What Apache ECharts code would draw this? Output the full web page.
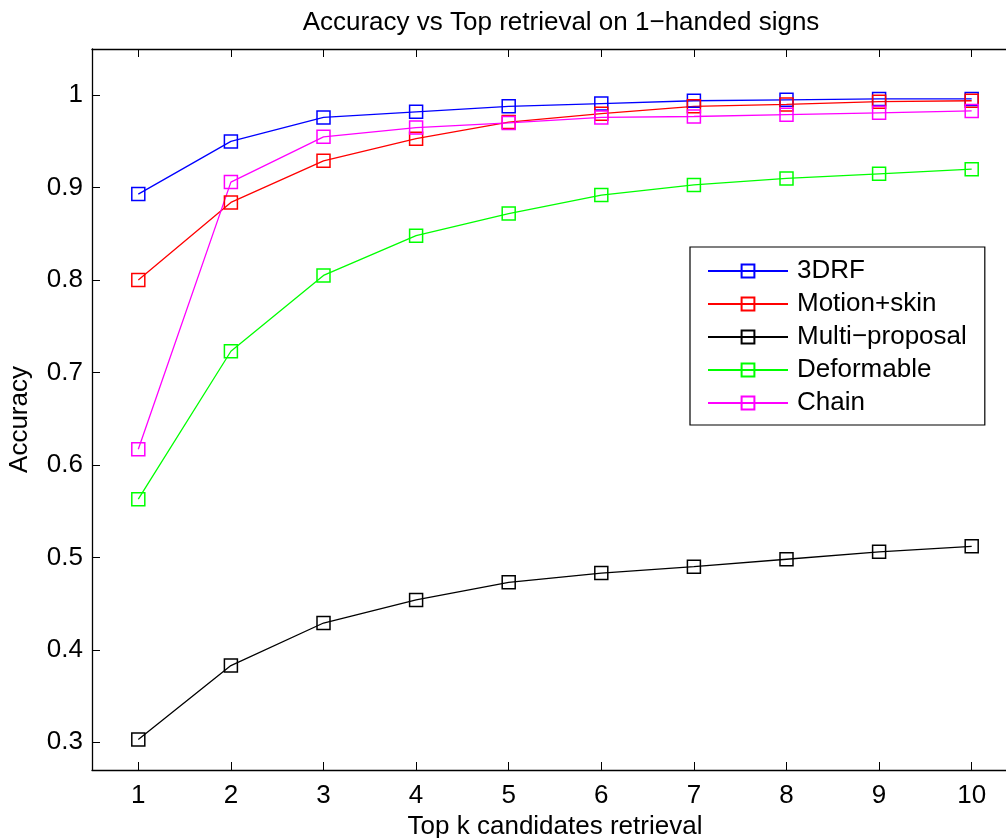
<!DOCTYPE html>
<html>
<head>
<meta charset="utf-8">
<script src="https://cdn.jsdelivr.net/npm/echarts@6/dist/echarts.min.js"></script>
<style>
  html, body { margin: 0; padding: 0; background: #fff; }
  #chart { width: 1006px; height: 838px; }
</style>
</head>
<body>
<div id="chart"></div>
<script>
const topK = [1, 2, 3, 4, 5, 6, 7, 8, 9, 10];
const yTicks = [0.3, 0.4, 0.5, 0.6, 0.7, 0.8, 0.9, 1];

const drf3 = [0.893, 0.950, 0.976, 0.982, 0.988, 0.991, 0.994, 0.995, 0.996, 0.996];
const motionSkin = [0.800, 0.884, 0.929, 0.953, 0.971, 0.980, 0.988, 0.990, 0.993, 0.994];
const multiProposal = [0.303, 0.383, 0.429, 0.454, 0.473, 0.483, 0.490, 0.498, 0.506, 0.512];
const deformable = [0.563, 0.723, 0.805, 0.848, 0.872, 0.892, 0.903, 0.910, 0.915, 0.920];
const chain = [0.617, 0.906, 0.955, 0.965, 0.970, 0.976, 0.977, 0.979, 0.981, 0.983];

const font = "Liberation Sans, Arial, Helvetica, sans-serif";

function line(name, values, color) {
  return {
    name,
    type: "line",
    data: topK.map((k, i) => [k, values[i]]),
    symbol: "rect",
    symbolSize: 13,
    showSymbol: true,
    lineStyle: { color, width: 1.3 },
    itemStyle: { color: "rgba(0,0,0,0)", borderColor: color, borderWidth: 1.5 },
    emphasis: { disabled: true },
    animation: false,
  };
}

const chart = echarts.init(document.getElementById("chart"));

chart.setOption({
  backgroundColor: "#fff",
  title: {
    text: "Accuracy vs Top retrieval on 1\u2212handed signs",
    left: 556,
    textAlign: "center",
    top: 5,
    textStyle: { fontFamily: font, fontWeight: "normal", fontSize: 26, color: "#000" },
  },
  legend: {
    orient: "vertical",
    left: 690,
    top: 247,
    padding: [11, 18, 9, 17],
    itemGap: 7,
    itemWidth: 80,
    itemHeight: 16,
    borderColor: "#000",
    borderWidth: 1.2,
    backgroundColor: "#fff",
    textStyle: { fontFamily: font, fontSize: 26, color: "#000", padding: [0, 0, 0, 4] },
    data: ["3DRF", "Motion+skin", "Multi\u2212proposal", "Deformable", "Chain"],
  },
  grid: { left: 92, top: 49, width: 926, bottom: 68, outerBoundsMode: "none", containLabel: false },
  xAxis: [
    {
      type: "value",
      min: 0.5,
      max: 10.5,
      name: "Top k candidates retrieval",
      nameLocation: "middle",
      nameGap: 44,
      nameTextStyle: { fontFamily: font, fontSize: 26, color: "#000" },
      axisLine: { show: true, onZero: false, lineStyle: { color: "#000", width: 1.3 } },
      axisTick: { show: true, inside: true, length: 8, customValues: topK, lineStyle: { color: "#000" } },
      axisLabel: { customValues: topK, fontFamily: font, fontSize: 26, color: "#000", margin: 13 },
      splitLine: { show: false },
    },
    {
      type: "value",
      position: "top",
      min: 0.5,
      max: 10.5,
      axisLine: { show: true, onZero: false, lineStyle: { color: "#000", width: 1.3 } },
      axisTick: { show: true, inside: true, length: 8, customValues: topK, lineStyle: { color: "#000" } },
      axisLabel: { show: false },
      splitLine: { show: false },
    },
  ],
  yAxis: [
    {
      type: "value",
      min: 0.27,
      max: 1.05,
      name: "Accuracy",
      nameLocation: "middle",
      nameGap: 59,
      nameTextStyle: { fontFamily: font, fontSize: 26, color: "#000", padding: [0, 20, 0, 0] },
      axisLine: { show: true, onZero: false, lineStyle: { color: "#000", width: 1.3 } },
      axisTick: { show: true, inside: true, length: 8, customValues: yTicks, lineStyle: { color: "#000" } },
      axisLabel: { customValues: yTicks, fontFamily: font, fontSize: 26, color: "#000", margin: 9 },
      splitLine: { show: false },
    },
  ],
  series: [
    line("3DRF", drf3, "#0000ff"),
    line("Motion+skin", motionSkin, "#ff0000"),
    line("Multi\u2212proposal", multiProposal, "#000000"),
    line("Deformable", deformable, "#00ff00"),
    line("Chain", chain, "#ff00ff"),
  ],
});
</script>
</body>
</html>
